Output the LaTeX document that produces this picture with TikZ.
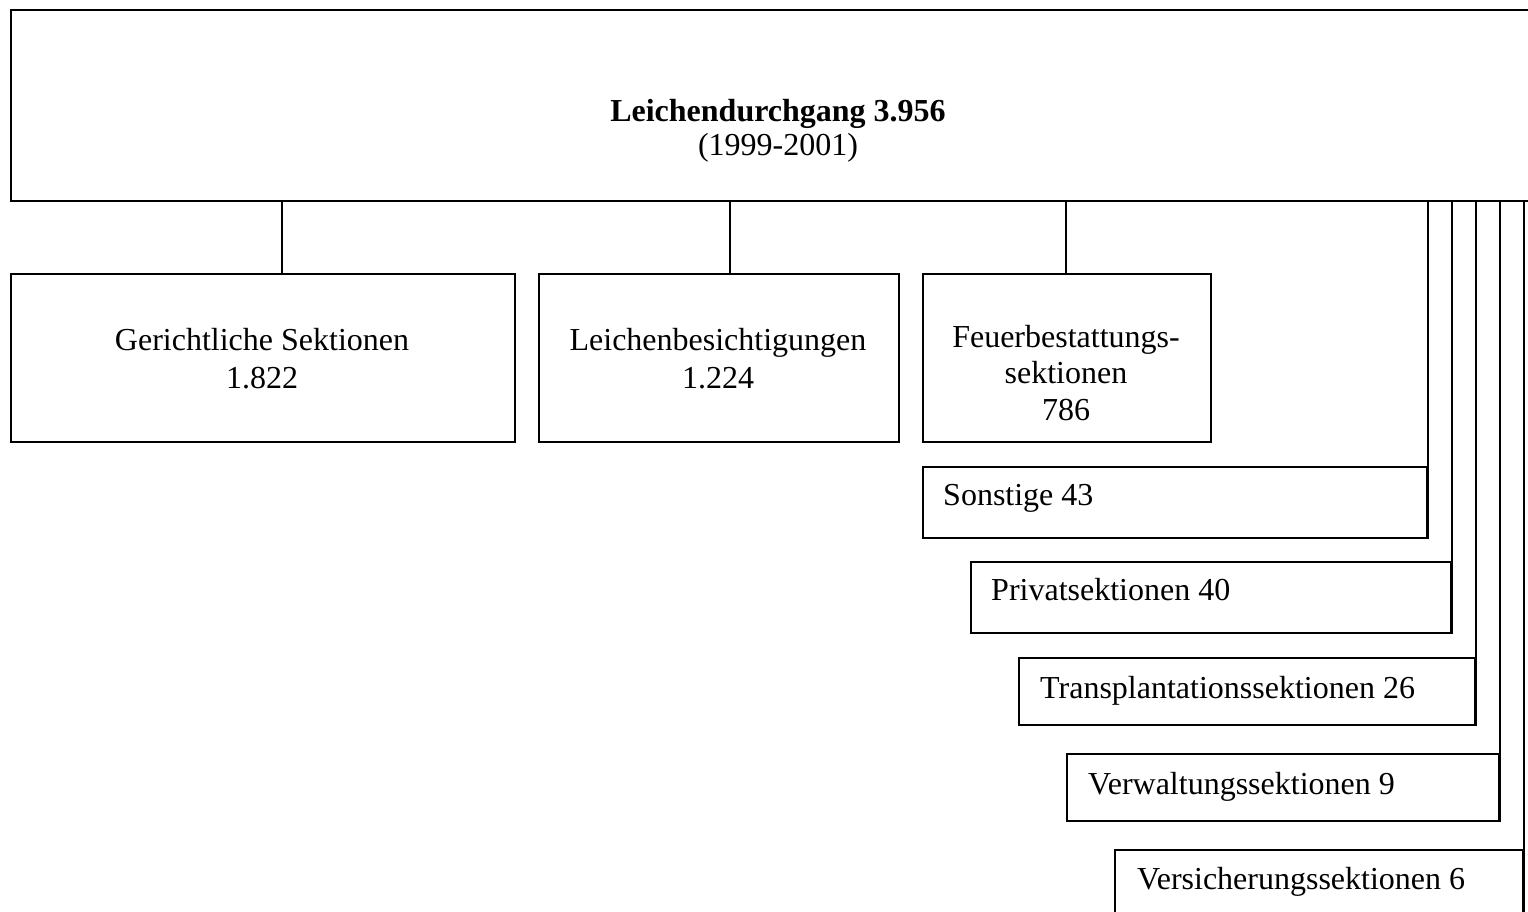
\documentclass[tikz,border=0pt]{standalone}
\usepackage{fontspec}
\setmainfont{Liberation Serif}
\begin{document}
\begin{tikzpicture}[x=1pt,y=-1pt,
  box/.style={draw=black,line width=1.8pt,rectangle,inner sep=0pt,anchor=north west},
  conn/.style={draw=black,line width=1.8pt},
  ctext/.style={anchor=base,inner sep=0pt,font=\fontsize{32}{37}\selectfont},
  ltext/.style={anchor=base west,inner sep=0pt,font=\fontsize{32}{37}\selectfont}]
\useasboundingbox (0,0) rectangle (1528,912);
% top box
\node[box,minimum width=1536pt,minimum height=191pt] (top) at (10,9) {};
\node[ctext,font=\fontsize{32}{37}\selectfont\bfseries] (toptitle) at (778,122) {Leichendurchgang 3.956};
\node[ctext] (topyears) at (778,156) {(1999-2001)};
% main children
\node[box,minimum width=504pt,minimum height=168pt] (ger) at (10,273) {};
\node[ctext] (gerA) at (262,350) {Gerichtliche Sektionen};
\node[ctext] (gerB) at (262,388) {1.822};
\node[box,minimum width=360pt,minimum height=168pt] (lei) at (538,273) {};
\node[ctext] (leiA) at (718,350) {Leichenbesichtigungen};
\node[ctext] (leiB) at (718,388) {1.224};
\node[box,minimum width=288pt,minimum height=168pt] (feu) at (922,273) {};
\node[ctext] (feuA) at (1066,347) {Feuerbestattungs-};
\node[ctext] (feuB) at (1066,383) {sektionen};
\node[ctext] (feuC) at (1066,420) {786};
% small boxes
\node[box,minimum width=504pt,minimum height=71pt] (son) at (922,466) {};
\node[ltext] (sonT) at (943,505) {Sonstige 43};
\node[box,minimum width=480pt,minimum height=71pt] (pri) at (970,561) {};
\node[ltext] (priT) at (991,600) {Privatsektionen 40};
\node[box,minimum width=456pt,minimum height=67pt] (tra) at (1018,657) {};
\node[ltext] (traT) at (1040,698) {Transplantationssektionen 26};
\node[box,minimum width=432pt,minimum height=67pt] (ver) at (1066,753) {};
\node[ltext] (verT) at (1088,794) {Verwaltungssektionen 9};
\node[box,minimum width=408pt,minimum height=80pt] (vs) at (1114,849) {};
\node[ltext] (vsT) at (1137,889) {Versicherungssektionen 6};
% connectors
\coordinate (c1) at (282,0);
\coordinate (c2) at (730,0);
\coordinate (c3) at (1066,0);
\draw[conn] (c1 |- top.south) -- (c1 |- ger.north);
\draw[conn] (c2 |- top.south) -- (c2 |- lei.north);
\draw[conn] (c3 |- top.south) -- (c3 |- feu.north);
\draw[conn] (son.south east |- top.south) -- (son.south east);
\draw[conn] (pri.south east |- top.south) -- (pri.south east);
\draw[conn] (tra.south east |- top.south) -- (tra.south east);
\draw[conn] (ver.south east |- top.south) -- (ver.south east);
\draw[conn] (vs.south east |- top.south) -- (vs.south east);
\end{tikzpicture}
\end{document}
